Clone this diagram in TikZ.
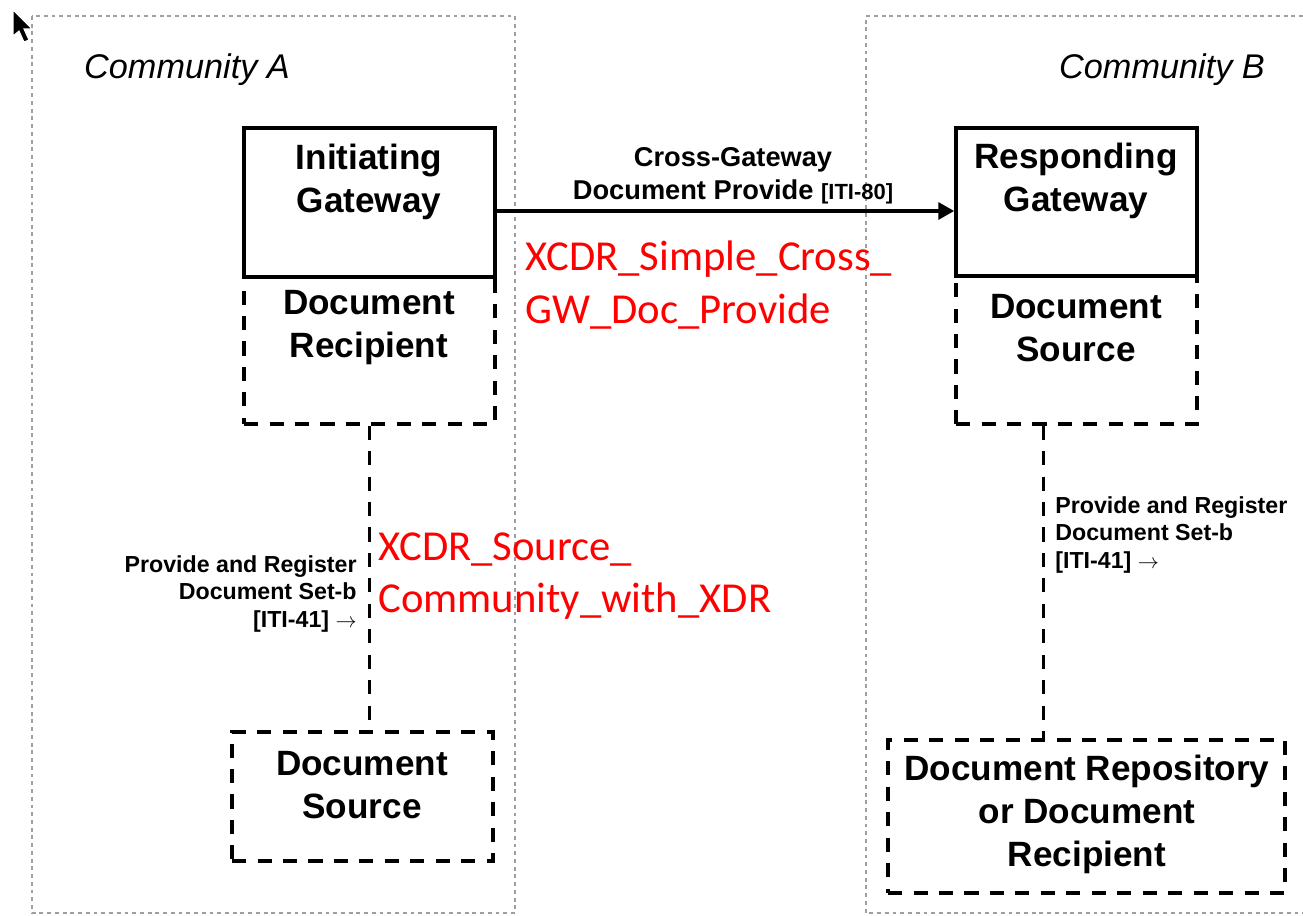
\documentclass[tikz,border=0pt]{standalone}
\usepackage{fontspec}
\setmainfont{Liberation Sans}
\newfontfamily\calibfont{Carlito}
\usetikzlibrary{arrows.meta,positioning}

\begin{document}
\begin{tikzpicture}[x=0.02cm,y=-0.02cm,
  community/.style={draw=gray!75,line width=1.1pt,dash pattern=on 2.2pt off 2.2pt},
  actor/.style={draw=black,line width=2pt,inner sep=0pt},
  grouped/.style={draw=black,line width=1.8pt,dash pattern=on 8pt off 6.5pt,inner sep=0pt},
  boxtext/.style={font=\bfseries\fontsize{20}{24.5}\selectfont,align=center,inner sep=0pt},
  txtext/.style={font=\bfseries\fontsize{13.2}{15.8}\selectfont,inner sep=0pt},
  note/.style={text=red,font=\calibfont\fontsize{24.3}{30}\selectfont,align=left,inner sep=0pt,anchor=north west}]
  \useasboundingbox (0,0) rectangle (1303,916);
  % communities
  \draw[community] (32,16) rectangle (515,913);
  \draw[community] (1303,16) -- (866,16) -- (866,913) -- (1303,913);
  \node[font=\itshape\fontsize{19.5}{23}\selectfont] (comA) at (187,70) {Community A};
  \node[font=\itshape\fontsize{19.5}{23}\selectfont] (comB) at (1162,70) {Community B};
  % community A actors
  \node[grouped,minimum width=5.02cm,minimum height=2.94cm] (docrcp) at (369.5,350.5) {};
  \node[actor,minimum width=5.02cm,minimum height=2.98cm] (initgw) at (369.5,202.5) {};
  \node[grouped,minimum width=5.22cm,minimum height=2.58cm] (docsrcA) at (362.5,796.5) {};
  \node[boxtext] (initgw-t) at (369,182) {Initiating\\Gateway};
  \node[boxtext] (docrcp-t) at (369,328) {Document\\Recipient};
  \node[boxtext] (docsrcA-t) at (362,785) {Document\\Source};
  % community B actors
  \node[grouped,minimum width=4.82cm,minimum height=2.96cm] (docsrcB) at (1076.5,350) {};
  \node[actor,minimum width=4.82cm,minimum height=2.96cm] (respgw) at (1076.5,202) {};
  \node[grouped,minimum width=7.94cm,minimum height=3.06cm] (docrep) at (1086.5,816.5) {};
  \node[boxtext] (respgw-t) at (1076,181) {Responding\\Gateway};
  \node[boxtext] (docsrcB-t) at (1076,328) {Document\\Source};
  \node[boxtext] (docrep-t) at (1087,814) {Document Repository\\or Document\\Recipient};
  % transactions
  \coordinate (xgw) at (0,211);
  \draw[line width=2pt,-{Triangle[length=9pt,width=9.5pt]}] (initgw.east |- xgw) -- (respgw.west |- xgw);
  \node[font=\bfseries\fontsize{15.5}{19}\selectfont,align=center] (iti80) at (733,176)
    {Cross-Gateway\\Document Provide {\fontsize{12.5}{19}\selectfont[ITI-80]}};
  \draw[grouped] (docrcp.south) -- (docrcp.south |- docsrcA.north);
  \path (docsrcB.south west) ++(89,0) coordinate (pnrB);
  \draw[grouped] (pnrB) -- (pnrB |- docrep.north);
  \node[txtext,align=right,anchor=east] (iti41A) at (357,594)
    {Provide and Register\\Document Set-b\\{}[ITI-41] $\rightarrow$};
  \node[txtext,align=left,anchor=west] (iti41B) at (1055,535)
    {Provide and Register\\Document Set-b\\{}[ITI-41] $\rightarrow$};
  % test case names
  \node[note] (tc1) at (525,241) {XCDR\_Simple\_Cross\_\\GW\_Doc\_Provide};
  \node[note] (tc2) at (378,532) {XCDR\_Source\_\\Community\_with\_XDR};
  % pointer
  \fill[black,draw=white,line width=0.6pt] (13,10) -- (13,36) -- (19,31) -- (24,42) -- (29,40) -- (24,29) -- (32,29) -- cycle;
\end{tikzpicture}
\end{document}
